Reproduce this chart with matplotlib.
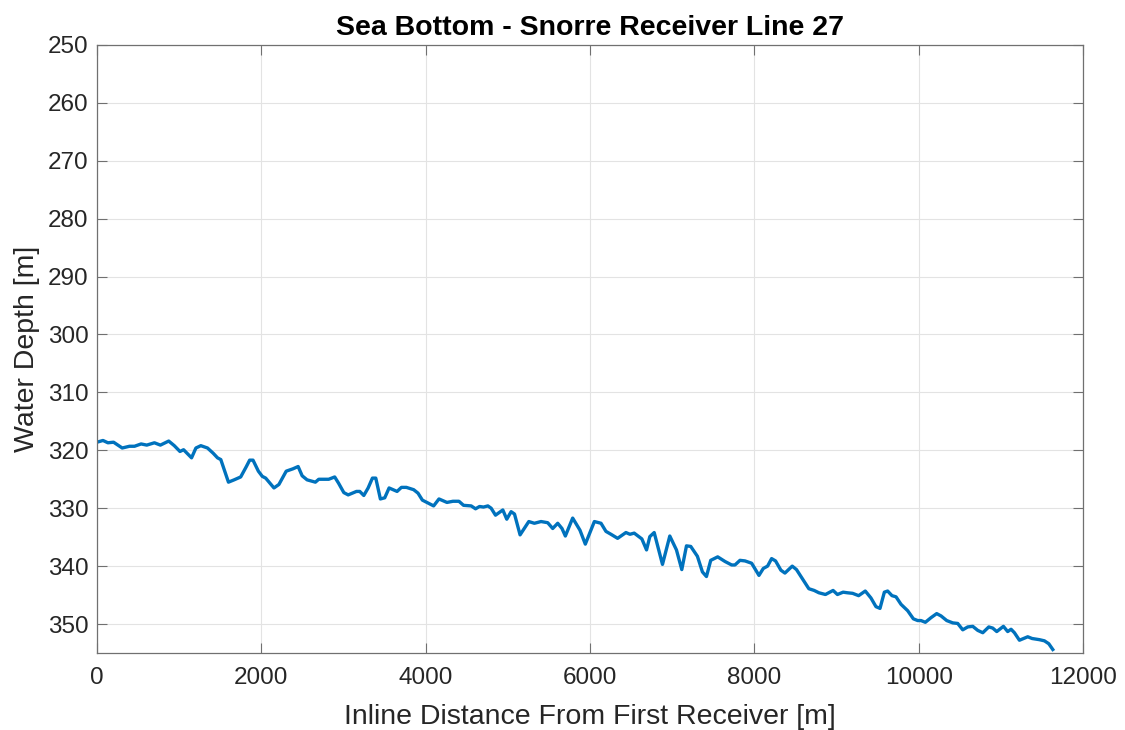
import matplotlib
matplotlib.use("Agg")
import matplotlib.pyplot as plt

# Sea bottom profile (inline distance [m], depth [m])
distance = [
    0, 73, 133, 202, 307, 396, 457, 537, 606, 699, 772, 873, 941, 1010, 1054,
    1151, 1204, 1264, 1345, 1414, 1467, 1507, 1600, 1669, 1749, 1818, 1858,
    1899, 1964, 2012, 2053, 2154, 2214, 2303, 2384, 2448, 2497, 2557, 2658,
    2699, 2820, 2893, 2941, 3004, 3057, 3158, 3198, 3247, 3300, 3352, 3393,
    3449, 3502, 3555, 3652, 3705, 3765, 3854, 3907, 3960, 4016, 4097, 4162,
    4259, 4332, 4405, 4461, 4554, 4607, 4656, 4704, 4757, 4797, 4850, 4939,
    4987, 5040, 5081, 5149, 5255, 5323, 5404, 5485, 5546, 5607, 5659, 5700,
    5789, 5878, 5943, 6053, 6134, 6194, 6255, 6336, 6437, 6486, 6538, 6631,
    6688, 6728, 6781, 6882, 6971, 7052, 7117, 7174, 7226, 7307, 7368, 7417,
    7469, 7554, 7643, 7724, 7764, 7825, 7886, 7967, 8056, 8109, 8161, 8210,
    8258, 8323, 8372, 8461, 8513, 8594, 8663, 8728, 8785, 8865, 8958, 9011,
    9080, 9132, 9196, 9269, 9350, 9419, 9480, 9529, 9582, 9622, 9675, 9724,
    9785, 9866, 9935, 9988, 10028, 10081, 10150, 10219, 10272, 10341, 10414,
    10475, 10536, 10597, 10658, 10719, 10780, 10853, 10901, 10950, 11031,
    11083, 11124, 11165, 11226, 11327, 11380, 11469, 11530, 11583, 11632,
]
depth = [
    318.6, 318.3, 318.7, 318.6, 319.6, 319.3, 319.3, 318.9, 319.1, 318.7,
    319.1, 318.4, 319.2, 320.2, 319.9, 321.3, 319.6, 319.2, 319.6, 320.5,
    321.3, 321.6, 325.5, 325.1, 324.6, 322.8, 321.7, 321.7, 323.6, 324.5,
    324.8, 326.5, 325.9, 323.6, 323.2, 322.8, 324.4, 325.1, 325.5, 325.0,
    325.0, 324.6, 325.7, 327.3, 327.7, 327.1, 327.1, 327.8, 326.5, 324.8,
    324.8, 328.4, 328.2, 326.5, 327.1, 326.4, 326.4, 326.8, 327.4, 328.6,
    329.0, 329.6, 328.4, 329.0, 328.8, 328.8, 329.5, 329.6, 330.1, 329.7,
    329.8, 329.6, 330.0, 331.2, 330.3, 331.9, 330.6, 331.0, 334.6, 332.3,
    332.6, 332.3, 332.5, 333.5, 332.6, 333.5, 334.8, 331.7, 333.8, 336.2,
    332.3, 332.6, 334.0, 334.5, 335.2, 334.2, 334.5, 334.3, 335.3, 337.2,
    334.9, 334.2, 339.7, 334.8, 337.2, 340.6, 336.5, 336.6, 338.3, 341.0,
    341.8, 339.0, 338.4, 339.2, 339.8, 339.8, 339.0, 339.1, 339.5, 341.6,
    340.4, 340.0, 338.7, 339.1, 340.7, 341.2, 340.0, 340.6, 342.4, 343.9,
    344.2, 344.6, 344.9, 344.2, 344.9, 344.5, 344.6, 344.7, 345.1, 344.3,
    345.5, 347.0, 347.3, 344.5, 344.3, 345.1, 345.3, 346.6, 347.7, 349.1,
    349.4, 349.4, 349.7, 348.9, 348.2, 348.6, 349.4, 349.8, 349.9, 351.0,
    350.5, 350.4, 351.1, 351.5, 350.5, 350.7, 351.3, 350.4, 351.3, 350.9,
    351.5, 352.8, 352.2, 352.5, 352.7, 352.9, 353.4, 354.4,
]
x_ticks = [0, 2000, 4000, 6000, 8000, 10000, 12000]
y_ticks = [250, 260, 270, 280, 290, 300, 310, 320, 330, 340, 350]

plt.rcParams['font.family'] = ['Liberation Sans', 'DejaVu Sans']

fig = plt.figure(figsize=(11.25, 7.3), dpi=100)
ax = fig.add_axes([0.0862, 0.1055, 0.8765, 0.8329])

ax.plot(distance, depth, color="#0072BD", linewidth=2.4)

ax.set_xlim(0, 12000)
ax.set_ylim(355, 250)
ax.set_xticks(x_ticks)
ax.set_yticks(y_ticks)
ax.grid(True, color="#E3E3E3", linewidth=0.8)
ax.set_axisbelow(True)

ax.tick_params(direction="in", length=7.5, width=0.8, color="#707070",
               labelcolor="#262626", labelsize=17.5, top=True, right=True, pad=10)
ax.tick_params(axis="y", pad=6)
for side in ax.spines.values():
    side.set_color("#707070")
    side.set_linewidth(0.9)

ax.set_xlabel("Inline Distance From First Receiver [m]", fontsize=20.5,
              color="#262626", labelpad=11)
ax.set_ylabel("Water Depth [m]", fontsize=20.5, color="#262626", labelpad=6)
ax.set_title("Sea Bottom - Snorre Receiver Line 27", fontsize=20.5,
             fontweight="bold", pad=7)

fig.savefig("out.png", dpi=100)
